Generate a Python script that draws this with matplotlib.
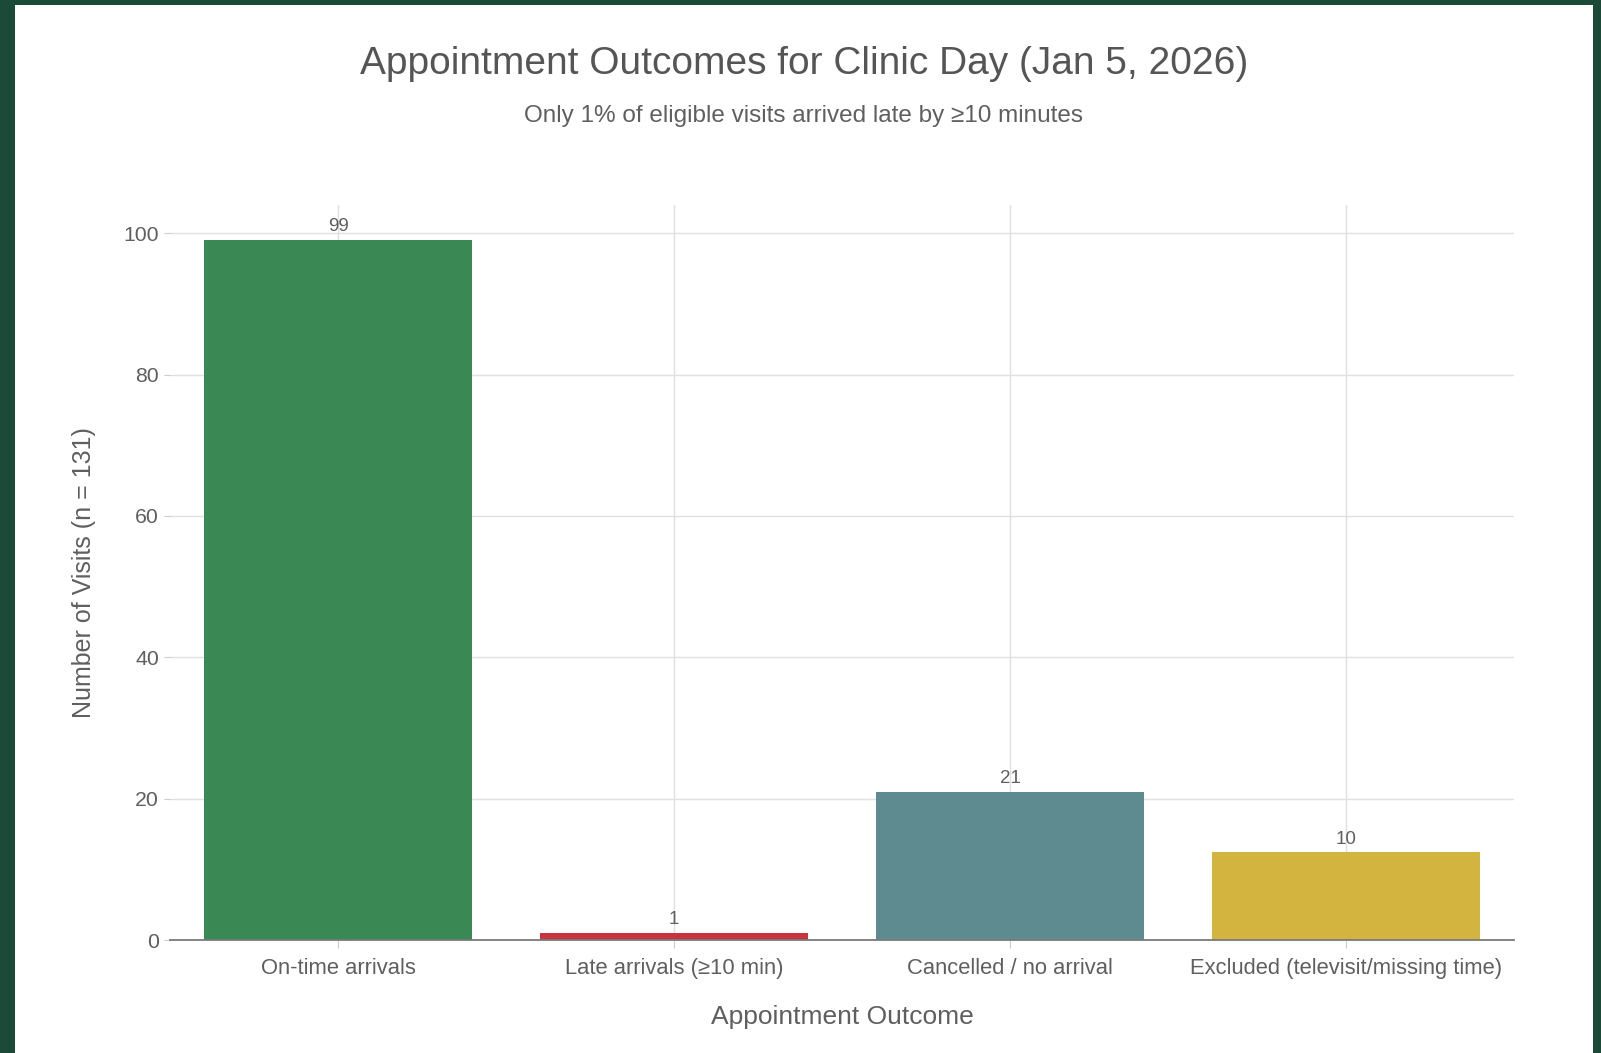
#!/usr/bin/env python3
# -*- coding: utf-8 -*-

# adding libs
import matplotlib
matplotlib.use('Agg')
import matplotlib.pyplot as plt
from matplotlib.patches import Rectangle

# chart data
categories = ['On-time arrivals', 'Late arrivals (≥10 min)',
              'Cancelled / no arrival', 'Excluded (televisit/missing time)']
visits = [99, 1, 21, 12.4]          # bar heights as drawn
value_labels = ['99', '1', '21', '10']  # labels as printed above the bars
bar_colors = ['#3a8955', '#c7343d', '#5e8b90', '#d3b43f']
y_ticks = [0, 20, 40, 60, 80, 100]

plt.rcParams['font.family'] = ['Liberation Sans', 'DejaVu Sans']
text_grey = '#5f5f5f'

fig = plt.figure(figsize=(16.01, 10.53), dpi=100, facecolor='#1c4a38')

# white card on the dark green background
fig.patches.append(Rectangle((15 / 1601, 0), (1593 - 15) / 1601, 1 - 5 / 1053,
                             transform=fig.transFigure, facecolor='white',
                             edgecolor='none', zorder=-10))

ax = fig.add_axes([0.1062, 0.1073, 0.8395, 0.698])
ax.set_facecolor('white')

x = list(range(len(categories)))
ax.bar(x, visits, width=0.8, color=bar_colors, zorder=2)

# value labels above each bar
for xi, h, lab in zip(x, visits, value_labels):
    ax.annotate(lab, (xi, h), xytext=(0, 3.5), textcoords='offset points',
                ha='center', va='bottom', fontsize=13.5, color=text_grey, zorder=3)

ax.set_xlim(-0.5, 3.5)
ax.set_ylim(0, 104)
ax.set_yticks(y_ticks)
ax.set_xticks(x)
ax.set_xticklabels(categories)

ax.grid(True, color='#e0e0e0', linewidth=1.0, zorder=0)
ax.set_axisbelow(True)

for side in ['top', 'right', 'left']:
    ax.spines[side].set_visible(False)
ax.spines['bottom'].set_color('#7a7a7a')
ax.spines['bottom'].set_linewidth(1.3)

ax.tick_params(axis='y', length=4, color='#cccccc', labelsize=15.3,
               labelcolor=text_grey, pad=4)
ax.tick_params(axis='x', length=6, color='#cccccc', labelsize=15.8,
               labelcolor=text_grey, pad=7)

ax.set_xlabel('Appointment Outcome', fontsize=19, color=text_grey)
ax.set_ylabel('Number of Visits (n = 131)', fontsize=18, color=text_grey)
ax.xaxis.set_label_coords(0.5, -0.0882)
ax.yaxis.set_label_coords(-0.0549, 0.5)

fig.text(0.502, 1 - 64 / 1053, 'Appointment Outcomes for Clinic Day (Jan 5, 2026)',
         ha='center', va='center', fontsize=28, color='#555555')
fig.text(0.502, 1 - 116 / 1053, 'Only 1% of eligible visits arrived late by ≥10 minutes',
         ha='center', va='center', fontsize=17.5, color=text_grey)

fig.savefig('out.png', dpi=100, facecolor=fig.get_facecolor())
